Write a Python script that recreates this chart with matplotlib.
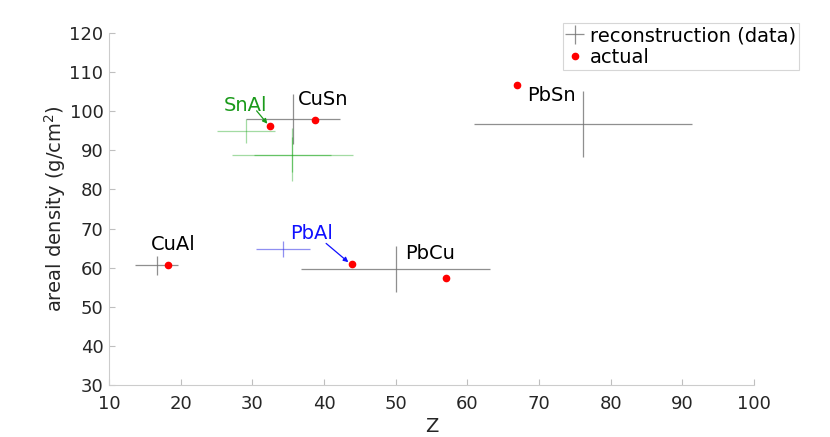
import matplotlib
matplotlib.use("Agg")
import matplotlib.pyplot as plt

# reconstruction (gray crosses)
rec_names = ['CuAl', 'CuSn', 'PbCu', 'PbSn']
rec_z = [16.7, 35.7, 50.0, 76.2]
rec_rho = [60.6, 98.0, 59.7, 96.8]
rec_zerr = [3.0, 6.6, 13.2, 15.2]
rec_rhoerr = [2.5, 6.3, 5.8, 8.4]

# PbAl reconstruction (blue)
pbal_z = [34.3]
pbal_rho = [64.8]
pbal_zerr = [3.8]
pbal_rhoerr = [2.0]

# SnAl reconstructions (green)
snal_z = [29.1, 35.6]
snal_rho = [94.9, 88.9]
snal_zerr = [4.0, 8.4]
snal_rhoerr = [3.0, 6.8]
snal_inner_z = [35.6]
snal_inner_rho = [88.9]
snal_inner_zerr = [5.35]
snal_inner_rhoerr = [4.5]

# actual values
act_names = ['CuAl', 'SnAl', 'CuSn', 'PbAl', 'PbCu', 'PbSn']
act_z = [18.2, 32.4, 38.7, 43.9, 57.0, 67.0]
act_rho = [60.8, 96.2, 97.8, 60.9, 57.4, 106.7]

# label positions (left edge, vertical centre)
lbl_pos = {'CuAl': (15.8, 65.8), 'CuSn': (36.3, 102.9), 'PbCu': (51.3, 63.7),
           'PbSn': (68.4, 103.9), 'SnAl': (26.0, 101.4), 'PbAl': (35.25, 68.8)}
lbl_col = {'CuAl': 'black', 'CuSn': 'black', 'PbCu': 'black', 'PbSn': 'black',
           'SnAl': '#1a9a1a', 'PbAl': '#1010ff'}
arrows = {'SnAl': ((30.6, 100.1), (32.1, 96.8)), 'PbAl': ((40.3, 66.2), (43.4, 61.4))}

fig = plt.figure(figsize=(8.3, 4.37), dpi=100)
ax = fig.add_axes([0.1313, 0.119, 0.7771, 0.8055])

gray = (0.45, 0.45, 0.45)
rec = ax.errorbar(rec_z, rec_rho, xerr=rec_zerr, yerr=rec_rhoerr, fmt='none',
                  ecolor=gray, elinewidth=0.9, capsize=0, alpha=0.8)
ax.errorbar(pbal_z, pbal_rho, xerr=pbal_zerr, yerr=pbal_rhoerr, fmt='none',
            ecolor=(0.2, 0.2, 0.9), elinewidth=0.9, capsize=0, alpha=0.55)
ax.errorbar(snal_z, snal_rho, xerr=snal_zerr, yerr=snal_rhoerr, fmt='none',
            ecolor=(0.1, 0.65, 0.1), elinewidth=0.9, capsize=0, alpha=0.4)
ax.errorbar(snal_inner_z, snal_inner_rho, xerr=snal_inner_zerr, yerr=snal_inner_rhoerr,
            fmt='none', ecolor=(0.1, 0.65, 0.1), elinewidth=0.9, capsize=0, alpha=0.45)
act, = ax.plot(act_z, act_rho, 'o', color='red', markersize=4.5, linestyle='none')

for name, (lx, ly) in lbl_pos.items():
    ax.text(lx, ly, name, color=lbl_col[name], fontsize=14, ha='left', va='center')
for name, (tail, head) in arrows.items():
    ax.annotate('', xy=head, xytext=tail,
                arrowprops=dict(arrowstyle='-|>', color=lbl_col[name], lw=0.9,
                                mutation_scale=7, shrinkA=0, shrinkB=0))

ax.set_xlim(10, 100)
ax.set_ylim(30, 120)
ax.set_xticks(range(10, 101, 10))
ax.set_yticks(range(30, 121, 10))
ax.set_xlabel('Z', fontsize=14, color=(0.15, 0.15, 0.15), labelpad=3)
ax.set_ylabel('areal density (g/cm$^2$)', fontsize=14, color=(0.15, 0.15, 0.15), labelpad=1)
ax.tick_params(direction='in', length=4, color=(0.75, 0.75, 0.75), labelsize=13,
               labelcolor=(0.15, 0.15, 0.15))
ax.tick_params(axis='x', pad=7)
ax.tick_params(axis='y', pad=4)
for s in ['top', 'right']:
    ax.spines[s].set_visible(False)
for s in ['left', 'bottom']:
    ax.spines[s].set_color((0.8, 0.8, 0.8))

leg = fig.legend([rec, act], ['reconstruction (data)', 'actual'], loc='upper right',
                 bbox_to_anchor=(0.963, 0.947), fontsize=14, frameon=True, fancybox=False,
                 borderpad=0.15, labelspacing=0.15, handlelength=0.9, handletextpad=0.35,
                 borderaxespad=0)
leg.get_frame().set_edgecolor((0.8, 0.8, 0.8))
leg.get_frame().set_linewidth(0.8)

fig.savefig('out.png', dpi=100)
